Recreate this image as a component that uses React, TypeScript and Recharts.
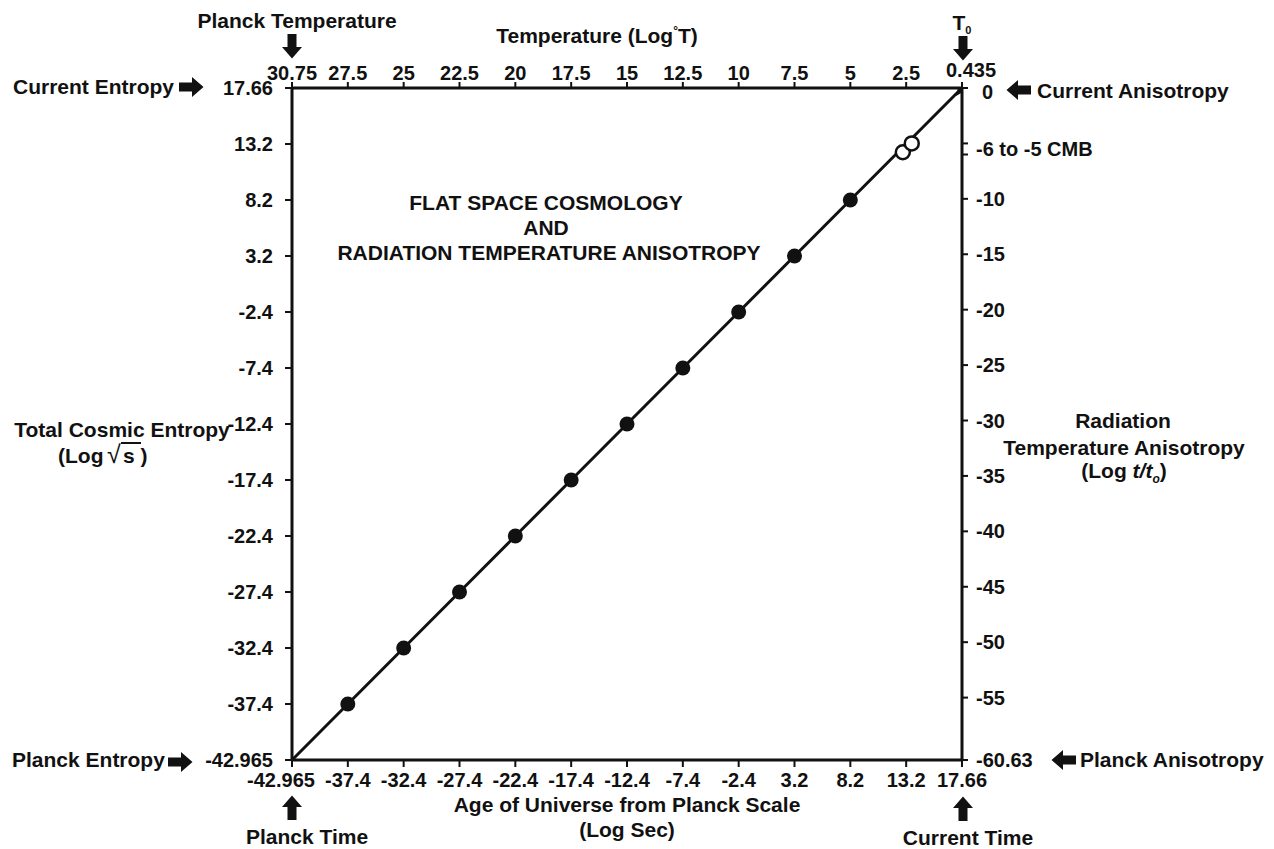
import React from "react";
import {
  ComposedChart,
  Line,
  Scatter,
  XAxis,
  YAxis,
} from "recharts";

// tick labels, evenly spaced along each axis
const ageTicks = ["-42.965", "-37.4", "-32.4", "-27.4", "-22.4", "-17.4", "-12.4", "-7.4", "-2.4", "3.2", "8.2", "13.2", "17.66"];
const entropyTicks = ["-42.965", "-37.4", "-32.4", "-27.4", "-22.4", "-17.4", "-12.4", "-7.4", "-2.4", "3.2", "8.2", "13.2", "17.66"];
const temperatureTicks = ["30.75", "27.5", "25", "22.5", "20", "17.5", "15", "12.5", "10", "7.5", "5", "2.5", "0.435"];
const anisotropyTicks = [0, -5, -6, -10, -15, -20, -25, -30, -35, -40, -45, -50, -55, -60.63];

// filled markers along the line (age of universe, log sec)
const markedAges = ["-37.4", "-32.4", "-27.4", "-22.4", "-17.4", "-12.4", "-7.4", "-2.4", "3.2", "8.2"];
// present day marker
const currentAge = "17.66";
// CMB open markers: position along age axis (tick steps) and anisotropy
const cmbSteps = [10.94, 11.1];
const cmbAnisotropy = [-5.8, -5.0];

const FONT = "'Liberation Sans', Arial, Helvetica, sans-serif";
const INK = "#111";

const lineData = ageTicks.map((a, i) => ({ step: i, ent: entropyTicks.indexOf(a) }));
const markData = markedAges.map((a) => ({ step: ageTicks.indexOf(a), ent: entropyTicks.indexOf(a) }));
const currentData = [{ step: ageTicks.indexOf(currentAge), ent: entropyTicks.indexOf(currentAge) }];
const cmbData = cmbSteps.map((s, i) => ({ step: s, aniso: cmbAnisotropy[i] }));

const steps = ageTicks.map((_, i) => i);

const tickStyle = { fill: INK, fontSize: 20, fontWeight: 700, fontFamily: FONT };

function AgeTick(props: any) {
  const { x, y, payload } = props;
  // first label sits a little left of its tick so it clears the next one
  const shift = payload.value === 0 ? -11 : 0;
  return (
    <text x={x + shift} y={y} dy="0.71em" textAnchor="middle" {...tickStyle}>
      {ageTicks[payload.value]}
    </text>
  );
}

function TempTick(props: any) {
  const { x, y, payload } = props;
  const last = payload.value === 12;
  return (
    <text x={x + (last ? 9 : 0)} y={y - (last ? 3 : 0)} textAnchor="middle" {...tickStyle}>
      {temperatureTicks[payload.value]}
    </text>
  );
}

function AnisoTick(props: any) {
  const { x, y, payload } = props;
  const v = payload.value;
  if (v === -6) return null;
  const label = v === -5 ? "-6 to -5 CMB" : String(v);
  const dy = v === -5 ? 5.5 : v === 0 ? 4 : 0;
  const dx = v === 0 ? 6 : 0;
  return (
    <text x={x + dx} y={y + dy} dy="0.355em" textAnchor="start" {...tickStyle}>
      {label}
    </text>
  );
}

function Star(p: any) {
  const r = 10;
  const pts: string[] = [];
  for (let k = 0; k < 10; k++) {
    const rr = k % 2 === 0 ? r : r * 0.45;
    const a = -Math.PI / 2 + (k * Math.PI) / 5;
    pts.push(`${p.cx + rr * Math.cos(a)},${p.cy + rr * Math.sin(a)}`);
  }
  return <polygon points={pts.join(" ")} fill={INK} />;
}

function Arrow({ x, y, dir }: { x: number; y: number; dir: "up" | "down" | "left" | "right" }) {
  // block arrow pointing right, rotated into place
  const rot = { right: 0, down: 90, left: 180, up: 270 }[dir];
  return (
    <polygon
      points="-12,-4.5 1,-4.5 1,-10 12.5,0 1,10 1,4.5 -12,4.5"
      fill={INK}
      transform={`translate(${x},${y}) rotate(${rot})`}
    />
  );
}

function Annotations() {
  const t = { fill: INK, fontWeight: 700, fontFamily: FONT, fontSize: 21 } as const;
  return (
    <svg width={1274} height={849} style={{ position: "absolute", left: 0, top: 0, pointerEvents: "none" }}>
      <text x={297} y={28} textAnchor="middle" {...t}>Planck Temperature</text>
      <Arrow x={292} y={46} dir="down" />
      <text x={597} y={43} textAnchor="middle" {...t}>
        Temperature (Log<tspan fontSize={12} dy={-8}>°</tspan><tspan dy={8}>T)</tspan>
      </text>
      <text x={962} y={30} textAnchor="middle" {...t}>
        T<tspan fontSize={11} dy={4}>0</tspan>
      </text>
      <Arrow x={963} y={48} dir="down" />

      <text x={13} y={94} {...t}>Current Entropy</text>
      <Arrow x={191} y={87} dir="right" />
      <Arrow x={1019} y={90} dir="left" />
      <text x={1037} y={98} {...t}>Current Anisotropy</text>

      <text x={122} y={437} textAnchor="middle" {...t}>Total Cosmic Entropy</text>
      <text x={58} y={463} {...t}>(Log</text>
      <text x={107} y={463} {...t} fontSize={25} fontWeight={400}>√</text>
      <line x1={121} y1={443} x2={141} y2={443} stroke={INK} strokeWidth={2} />
      <text x={123} y={463} {...t}>s )</text>

      <text x={1123} y={428} textAnchor="middle" {...t}>Radiation</text>
      <text x={1124} y={455} textAnchor="middle" {...t}>Temperature Anisotropy</text>
      <text x={1124} y={478} textAnchor="middle" {...t}>
        (Log <tspan fontStyle="italic">t/t</tspan>
        <tspan fontStyle="italic" fontSize={12} dy={5}>o</tspan>
        <tspan dy={-5}>)</tspan>
      </text>

      <text x={546} y={210} textAnchor="middle" {...t}>FLAT SPACE COSMOLOGY</text>
      <text x={546} y={235} textAnchor="middle" {...t}>AND</text>
      <text x={549} y={260} textAnchor="middle" {...t}>RADIATION TEMPERATURE ANISOTROPY</text>

      <text x={12} y={767} {...t}>Planck Entropy</text>
      <Arrow x={180} y={762} dir="right" />
      <Arrow x={1064} y={760} dir="left" />
      <text x={1080} y={767} {...t}>Planck Anisotropy</text>

      <Arrow x={292} y={808} dir="up" />
      <text x={307} y={844} textAnchor="middle" {...t}>Planck Time</text>
      <text x={627} y={812} textAnchor="middle" {...t}>Age of Universe from Planck Scale</text>
      <text x={627} y={837} textAnchor="middle" {...t}>(Log Sec)</text>
      <Arrow x={963} y={809} dir="up" />
      <text x={968} y={845} textAnchor="middle" {...t}>Current Time</text>
    </svg>
  );
}

const axisLine = { stroke: INK, strokeWidth: 3 };
const tickLine = { stroke: INK, strokeWidth: 2 };

export default function App() {
  return (
    <div style={{ position: "absolute", left: 0, top: 0, width: 1274, height: 849, background: "#fff", fontFamily: FONT }}>
      <ComposedChart width={1274} height={849} margin={{ top: 58, right: 252, bottom: 59, left: 232 }}>
        <XAxis
          xAxisId="age"
          type="number"
          dataKey="step"
          domain={[0, 12]}
          ticks={steps}
          height={30}
          axisLine={axisLine}
          tickLine={tickLine}
          tickSize={7}
          tickMargin={6}
          tick={<AgeTick />}
          interval={0}
          allowDataOverflow
        />
        <XAxis
          xAxisId="temp"
          orientation="top"
          type="number"
          dataKey="step"
          domain={[0, 12]}
          ticks={steps}
          height={30}
          axisLine={axisLine}
          tickLine={tickLine}
          tickSize={6}
          tickMargin={2}
          tick={<TempTick />}
          interval={0}
          allowDataOverflow
        />
        <YAxis
          yAxisId="ent"
          type="number"
          dataKey="ent"
          domain={[0, 12]}
          ticks={steps}
          tickFormatter={(i: number) => entropyTicks[i]}
          width={60}
          axisLine={axisLine}
          tickLine={tickLine}
          tickSize={7}
          tickMargin={12}
          tick={tickStyle}
          interval={0}
          allowDataOverflow
        />
        <YAxis
          yAxisId="aniso"
          orientation="right"
          type="number"
          dataKey="aniso"
          domain={[-60.63, 0]}
          ticks={anisotropyTicks}
          width={60}
          axisLine={axisLine}
          tickLine={tickLine}
          tickSize={6}
          tickMargin={8}
          tick={<AnisoTick />}
          interval={0}
          allowDataOverflow
        />
        <Line
          xAxisId="age"
          yAxisId="ent"
          data={lineData}
          dataKey="ent"
          type="linear"
          stroke={INK}
          strokeWidth={3}
          dot={false}
          isAnimationActive={false}
        />
        <Scatter
          xAxisId="age"
          yAxisId="ent"
          data={markData}
          dataKey="ent"
          fill={INK}
          shape={(p: any) => <circle cx={p.cx} cy={p.cy} r={7.5} fill={INK} />}
          isAnimationActive={false}
        />
        <Scatter
          xAxisId="age"
          yAxisId="aniso"
          data={cmbData}
          dataKey="aniso"
          shape={(p: any) => <circle cx={p.cx} cy={p.cy} r={7} fill="#fff" stroke={INK} strokeWidth={2.5} />}
          isAnimationActive={false}
        />
        <Scatter
          xAxisId="age"
          yAxisId="ent"
          data={currentData}
          dataKey="ent"
          fill={INK}
          shape={(p: any) => <Star {...p} />}
          isAnimationActive={false}
        />
      </ComposedChart>
      <Annotations />
    </div>
  );
}
